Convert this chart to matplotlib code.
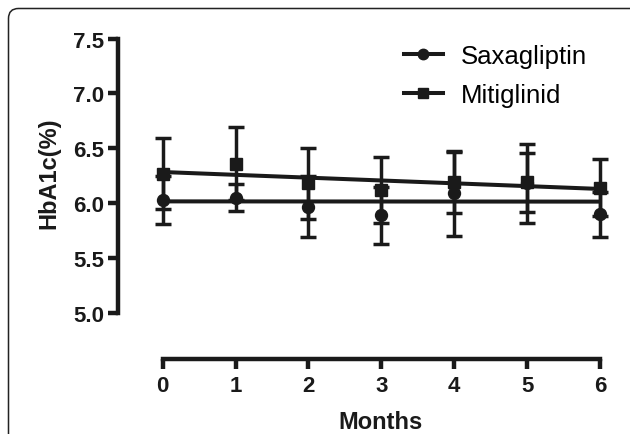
import numpy as np
import matplotlib.pyplot as plt
from matplotlib.lines import Line2D
from matplotlib.patches import FancyBboxPatch
from matplotlib.transforms import IdentityTransform

plt.rcParams['font.family'] = ['Liberation Sans', 'DejaVu Sans']

months = [0, 1, 2, 3, 4, 5, 6]

# mean and SD
saxa_mean = [6.03, 6.05, 5.97, 5.89, 6.09, 6.18, 5.90]
saxa_sd = [0.22, 0.125, 0.275, 0.26, 0.39, 0.36, 0.205]
miti_mean = [6.27, 6.36, 6.18, 6.12, 6.19, 6.19, 6.14]
miti_sd = [0.32, 0.33, 0.32, 0.30, 0.28, 0.27, 0.26]

yticks = [5.0, 5.5, 6.0, 6.5, 7.0, 7.5]
ink = '#1a1a1a'

fig = plt.figure(figsize=(6.3, 4.35), dpi=100)

# rounded panel frame (pixel coords)
frame = FancyBboxPatch((8.5, -30), 660, 455.5, boxstyle='round,pad=0,rounding_size=10',
                       facecolor='none', edgecolor='#222222', linewidth=1.1,
                       transform=IdentityTransform())
fig.add_artist(frame)

ax = fig.add_axes([118 / 630, 75 / 435, 492 / 630, 330 / 435])
ax.set_xlim(-0.613, 6.137)
ax.set_ylim(4.581, 7.587)

x = np.array(months)
for mean, sd, mk in [(saxa_mean, saxa_sd, 'o'), (miti_mean, miti_sd, 's')]:
    ax.errorbar(x, mean, yerr=sd, fmt='none', ecolor=ink, elinewidth=2.5,
                capsize=5.8, capthick=2.5, clip_on=False, zorder=2)
    ax.plot(x, mean, linestyle='none', marker=mk, markersize=8.6, color=ink,
            clip_on=False, zorder=3)
    slope, icpt = np.polyfit(x, mean, 1)
    ax.plot(x, slope * x + icpt, color=ink, linewidth=2.9, solid_capstyle='butt',
            clip_on=False, zorder=4)

for side in ['top', 'right']:
    ax.spines[side].set_visible(False)
for side in ['left', 'bottom']:
    ax.spines[side].set_linewidth(3.2)
    ax.spines[side].set_color(ink)
    ax.spines[side].set_capstyle('projecting')
ax.spines['left'].set_bounds(5.0, 7.5)
ax.spines['bottom'].set_bounds(0, 6)

ax.set_xticks(months)
ax.set_yticks(yticks)
ax.set_yticklabels([f'{v:.1f}' for v in yticks])
ax.tick_params(axis='both', length=7.2, width=3.2, color=ink, labelsize=16,
               labelcolor=ink)
ax.tick_params(axis='y', pad=2.5)
ax.tick_params(axis='x', pad=4)
for lbl in ax.get_xticklabels() + ax.get_yticklabels():
    lbl.set_fontweight('bold')

ax.set_ylabel('HbA1c(%)', fontsize=17, fontweight='bold', color=ink, va='center')
ax.yaxis.set_label_coords(49 / 630, 262 / 435, transform=fig.transFigure)
ax.set_xlabel('Months', fontsize=17, fontweight='bold', color=ink, va='top')
ax.xaxis.set_label_coords(381 / 630, 24 / 435, transform=fig.transFigure)

handles = [Line2D([], [], color=ink, linewidth=2.9, marker='o', markersize=7.5),
           Line2D([], [], color=ink, linewidth=2.9, marker='s', markersize=7.5)]
ax.legend(handles, ['Saxagliptin', 'Mitiglinid'], loc='upper left',
          bbox_to_anchor=(404 / 630, 390 / 435), bbox_transform=fig.transFigure,
          frameon=False, fontsize=18.5, handlelength=1.5, handletextpad=0.7,
          labelspacing=0.6, borderpad=0, borderaxespad=0)

fig.savefig('out.png', dpi=100)
